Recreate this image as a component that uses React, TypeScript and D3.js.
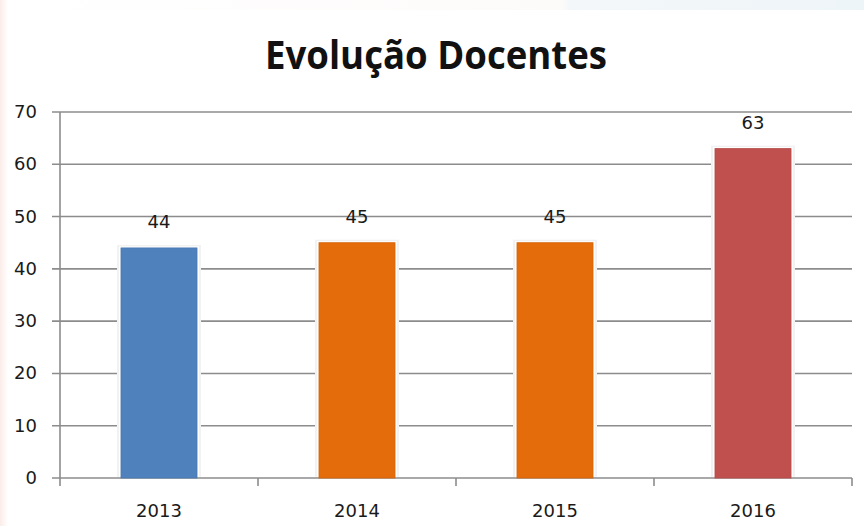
import React from "react";
import * as d3 from "d3";

const categories = ["2013", "2014", "2015", "2016"];
const values = [44, 45, 45, 63];
const barColors = ["#4F81BD", "#E46C0A", "#E46C0A", "#C0504D"];
const yTicks = [0, 10, 20, 30, 40, 50, 60, 70];
const title = "Evolução Docentes";

export default function App() {
  const W = 864, H = 526;
  const left = 60, right = 852, top = 112, bottom = 478;
  const x = d3.scaleBand<string>().domain(categories).range([left, right]).paddingInner(0.616).paddingOuter(0.308);
  const y = d3.scaleLinear().domain([0, 70]).range([bottom, top]);
  const band = d3.scaleBand<string>().domain(categories).range([left, right]);
  const font = "Open Sans, Lato, sans-serif";
  const tfont = "DejaVu Sans, Verdana, sans-serif";
  return (
    <svg width={W} height={H} style={{ position: "fixed", left: 0, top: 0, background: "#fff" }}>
      <defs>
        <linearGradient id="lg" x1="0" x2="1" y1="0" y2="0">
          <stop offset="0" stopColor="#fbece8" />
          <stop offset="1" stopColor="#ffffff" />
        </linearGradient>
        <linearGradient id="tg" x1="0" x2="1" y1="0" y2="0">
          <stop offset="0" stopColor="#ffffff" />
          <stop offset="0.65" stopColor="#fdfbfa" />
          <stop offset="0.66" stopColor="#f3f7f9" />
          <stop offset="1" stopColor="#eef5f8" />
        </linearGradient>
      </defs>
      <rect x={0} y={0} width={W} height={H} fill="#fff" />
      <rect x={0} y={0} width={W} height={10} fill="url(#tg)" />
      <rect x={0} y={0} width={8} height={H} fill="url(#lg)" />
      <text x={436} y={69} textAnchor="middle" fontFamily={font} fontWeight="bold" fontSize={39} fill="#111" textLength={342} lengthAdjust="spacingAndGlyphs">{title}</text>
      {yTicks.map((t) => (
        <g key={t}>
          <line x1={52} x2={right} y1={y(t)} y2={y(t)} stroke="#8c8c8c" strokeWidth={1.6} />
          <text x={37} y={y(t) + 6} textAnchor="end" fontFamily={tfont} fontSize={18} fill="#1a1a1a">{t}</text>
        </g>
      ))}
      <line x1={left} x2={left} y1={top} y2={bottom} stroke="#8c8c8c" strokeWidth={1.6} />
      {categories.map((c) => (
        <line key={"t" + c} x1={(band(c) as number) + band.bandwidth()} x2={(band(c) as number) + band.bandwidth()} y1={bottom} y2={486} stroke="#8c8c8c" strokeWidth={1.6} />
      ))}
      <line x1={left} x2={left} y1={bottom} y2={486} stroke="#8c8c8c" strokeWidth={1.6} />
      {categories.map((c, i) => (
        <g key={c}>
          <rect x={(x(c) as number) - 4} y={y(values[i]) - 3} width={x.bandwidth() + 8} height={bottom - y(values[i]) + 2} fill="#f2f2f2" />
          <rect x={(x(c) as number) - 2} y={y(values[i]) - 1.5} width={x.bandwidth() + 4} height={bottom - y(values[i]) + 0.5} fill="#ffffff" />
          <rect x={x(c)} y={y(values[i])} width={x.bandwidth()} height={bottom - y(values[i])} fill={barColors[i]} stroke={d3.color(barColors[i])!.darker(0.2).toString()} strokeWidth={0.8} />
          <text x={(x(c) as number) + x.bandwidth() / 2} y={y(values[i]) - 20} textAnchor="middle" fontFamily={tfont} fontSize={18} fill="#1a1a1a">{values[i]}</text>
          <text x={(x(c) as number) + x.bandwidth() / 2} y={517} textAnchor="middle" fontFamily={tfont} fontSize={18} fill="#1a1a1a">{c}</text>
        </g>
      ))}
    </svg>
  );
}
